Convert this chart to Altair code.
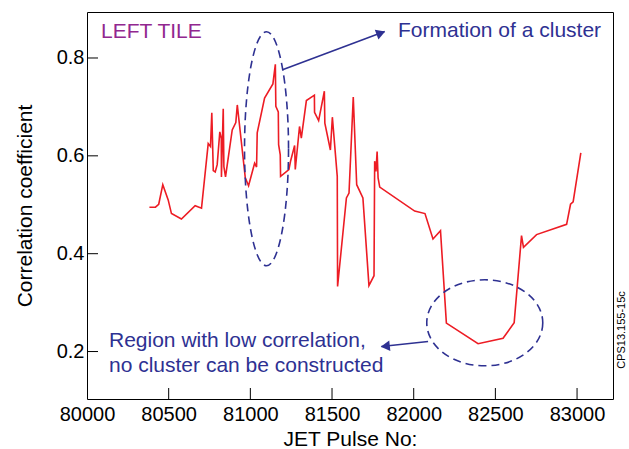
import altair as alt
import pandas as pd

# Correlation coefficient of the left tile against JET pulse number
pulse = [80382, 80419, 80439, 80464, 80497, 80517, 80578, 80662, 80701, 80742,
         80756, 80764, 80773, 80785, 80797, 80813, 80822, 80823, 80834, 80838,
         80848, 80889, 80911, 80920, 80969, 80989, 81026, 81038, 81042, 81087,
         81138, 81153, 81156, 81171, 81173, 81183, 81185, 81236, 81246, 81271,
         81275, 81301, 81312, 81343, 81392, 81393, 81418, 81453, 81456, 81490,
         81502, 81532, 81534, 81588, 81604, 81630, 81651, 81689, 81726, 81757,
         81761, 81769, 81776, 81782, 81792, 82006, 82069, 82118, 82164, 82200,
         82394, 82547, 82615, 82660, 82672, 82752, 82936, 82960, 82976, 83023]
corr = [0.495, 0.495, 0.501, 0.541, 0.510, 0.482, 0.471, 0.498, 0.493, 0.625,
        0.619, 0.688, 0.570, 0.567, 0.582, 0.649, 0.636, 0.557, 0.696, 0.578,
        0.557, 0.653, 0.668, 0.704, 0.555, 0.539, 0.585, 0.577, 0.647, 0.718,
        0.747, 0.787, 0.701, 0.690, 0.623, 0.602, 0.558, 0.572, 0.589, 0.621,
        0.572, 0.660, 0.636, 0.713, 0.724, 0.689, 0.672, 0.732, 0.667, 0.612,
        0.679, 0.558, 0.333, 0.514, 0.524, 0.720, 0.541, 0.514, 0.335, 0.355,
        0.589, 0.568, 0.609, 0.555, 0.536, 0.487, 0.482, 0.430, 0.447, 0.258,
        0.216, 0.227, 0.259, 0.437, 0.413, 0.439, 0.460, 0.501, 0.506, 0.606]

x_labels = [80000, 80500, 81000, 81500, 82000, 82500, 83000]
x_ticks = [80500, 81000, 81500, 82000, 82500, 83000]
y_ticks = [0.2, 0.4, 0.6, 0.8]

# annotation anchors in data units: ellipse centres and arrow ends
ellipse_pulse = [81099, 82435]
ellipse_corr = [0.6145, 0.2587]
arrow_from_pulse = [81197, 82088]
arrow_from_corr = [0.776, 0.2205]
arrow_to_pulse = [81822, 81802]
arrow_to_corr = [0.854, 0.2103]
head_pulse = [81799, 81826]
head_corr = [0.851, 0.211]

W, H = 526, 387
RED = "#ed1c24"
NAVY = "#2e3192"
PURPLE = "#92278f"
FONT = "Liberation Sans"

xs = alt.Scale(domain=[80000, 83220], nice=False, zero=False)
ys = alt.Scale(domain=[0.103, 0.894], nice=False, zero=False)

x_axis = alt.Axis(values=x_labels, format="d", title="JET Pulse No:",
                  ticks=False, domain=False, grid=False,
                  labelPadding=5, labelFontSize=20, labelColor="black",
                  labelFont=FONT, titleFont=FONT, titleFontSize=21,
                  titleFontWeight="normal", titleColor="black",
                  titlePadding=4, labelFlush=False, labelOverlap=False)
y_axis = alt.Axis(values=y_ticks, format=".1f", title="Correlation coefficient",
                  ticks=False, domain=False, grid=False,
                  labelPadding=3, labelFontSize=20, labelColor="black",
                  labelFont=FONT, titleFont=FONT, titleFontSize=21,
                  titleFontWeight="normal", titleColor="black",
                  titlePadding=21)


def X(field):
    return alt.X(field, type="quantitative", scale=xs, axis=x_axis)


def Y(field):
    return alt.Y(field, type="quantitative", scale=ys, axis=y_axis)


df = pd.DataFrame({"idx": list(range(len(pulse))), "pulse": pulse, "corr": corr})

line = alt.Chart(df).mark_line(color=RED, strokeWidth=1.6).encode(
    x=X("pulse"), y=Y("corr"), order="idx:Q")

# inward tick marks on the bottom and left edges
xt = alt.Chart(pd.DataFrame({"pulse": x_ticks})).mark_rule(color="black", strokeWidth=1).encode(
    x=X("pulse"), y=alt.value(H), y2=alt.value(H - 11))
yt = alt.Chart(pd.DataFrame({"corr": y_ticks})).mark_rule(color="black", strokeWidth=1).encode(
    y=Y("corr"), x=alt.value(0), x2=alt.value(11))


def ellipse_path(rx, ry):
    k = 0.5523
    return (f"M {rx} 0 C {rx} {k*ry} {k*rx} {ry} 0 {ry} "
            f"C {-k*rx} {ry} {-rx} {k*ry} {-rx} 0 "
            f"C {-rx} {-k*ry} {-k*rx} {-ry} 0 {-ry} "
            f"C {k*rx} {-ry} {rx} {-k*ry} {rx} 0 Z")


ell1 = alt.Chart(pd.DataFrame({"pulse": [ellipse_pulse[0]], "corr": [ellipse_corr[0]]})).mark_point(
    shape=ellipse_path(22 / 117, 1), size=(2 * 117) ** 2, filled=False, stroke=NAVY,
    strokeWidth=1.6, strokeDash=[8, 5], opacity=1).encode(x=X("pulse"), y=Y("corr"))
ell2 = alt.Chart(pd.DataFrame({"pulse": [ellipse_pulse[1]], "corr": [ellipse_corr[1]]})).mark_point(
    shape=ellipse_path(1, 43 / 58), size=(2 * 58) ** 2, filled=False, stroke=NAVY,
    strokeWidth=1.6, strokeDash=[8, 5], opacity=1).encode(x=X("pulse"), y=Y("corr"))

arrows = pd.DataFrame({"pulse": arrow_from_pulse, "corr": arrow_from_corr,
                       "p2": arrow_to_pulse, "c2": arrow_to_corr})
heads_df = pd.DataFrame({"pulse": head_pulse, "corr": head_corr, "ang": [339.7, 173.8]})
shafts = alt.Chart(arrows).mark_rule(color=NAVY, strokeWidth=1.6).encode(
    x=X("pulse"), y=Y("corr"), x2="p2:Q", y2="c2:Q")
heads = alt.Chart(heads_df).mark_point(shape="triangle-right", filled=True, color=NAVY,
                                       size=110, opacity=1).encode(
    x=X("pulse"), y=Y("corr"), angle=alt.Angle("ang:Q", scale=None))

one = pd.DataFrame({"a": [0]})
tile = alt.Chart(one).mark_text(text="LEFT TILE", font=FONT, fontSize=21, color=PURPLE,
                                align="left", baseline="alphabetic").encode(
    x=alt.value(14), y=alt.value(26))
form = alt.Chart(one).mark_text(text="Formation of a cluster", font=FONT, fontSize=21,
                                color=NAVY, align="left", baseline="alphabetic").encode(
    x=alt.value(311), y=alt.value(25))
region = alt.Chart(one).mark_text(text=["Region with low correlation,",
                                        "no cluster can be constructed"],
                                  font=FONT, fontSize=21, color=NAVY, align="left",
                                  baseline="alphabetic", lineHeight=25).encode(
    x=alt.value(22), y=alt.value(335))
code = alt.Chart(one).mark_text(text="CPS13.155-15c", font=FONT, fontSize=11, color="black",
                                angle=270, align="center", baseline="middle").encode(
    x=alt.value(535), y=alt.value(318))

chart = alt.layer(line, xt, yt, ell1, ell2, shafts, heads, tile, form, region, code).properties(
    width=W, height=H,
    padding={"left": 87, "top": 12, "right": 16, "bottom": 50},
    autosize=alt.AutoSizeParams(type="none"),
    background="white",
).configure_view(stroke="black", strokeWidth=1)

chart.save("out.html", embed_options={"renderer": "svg", "actions": False})
